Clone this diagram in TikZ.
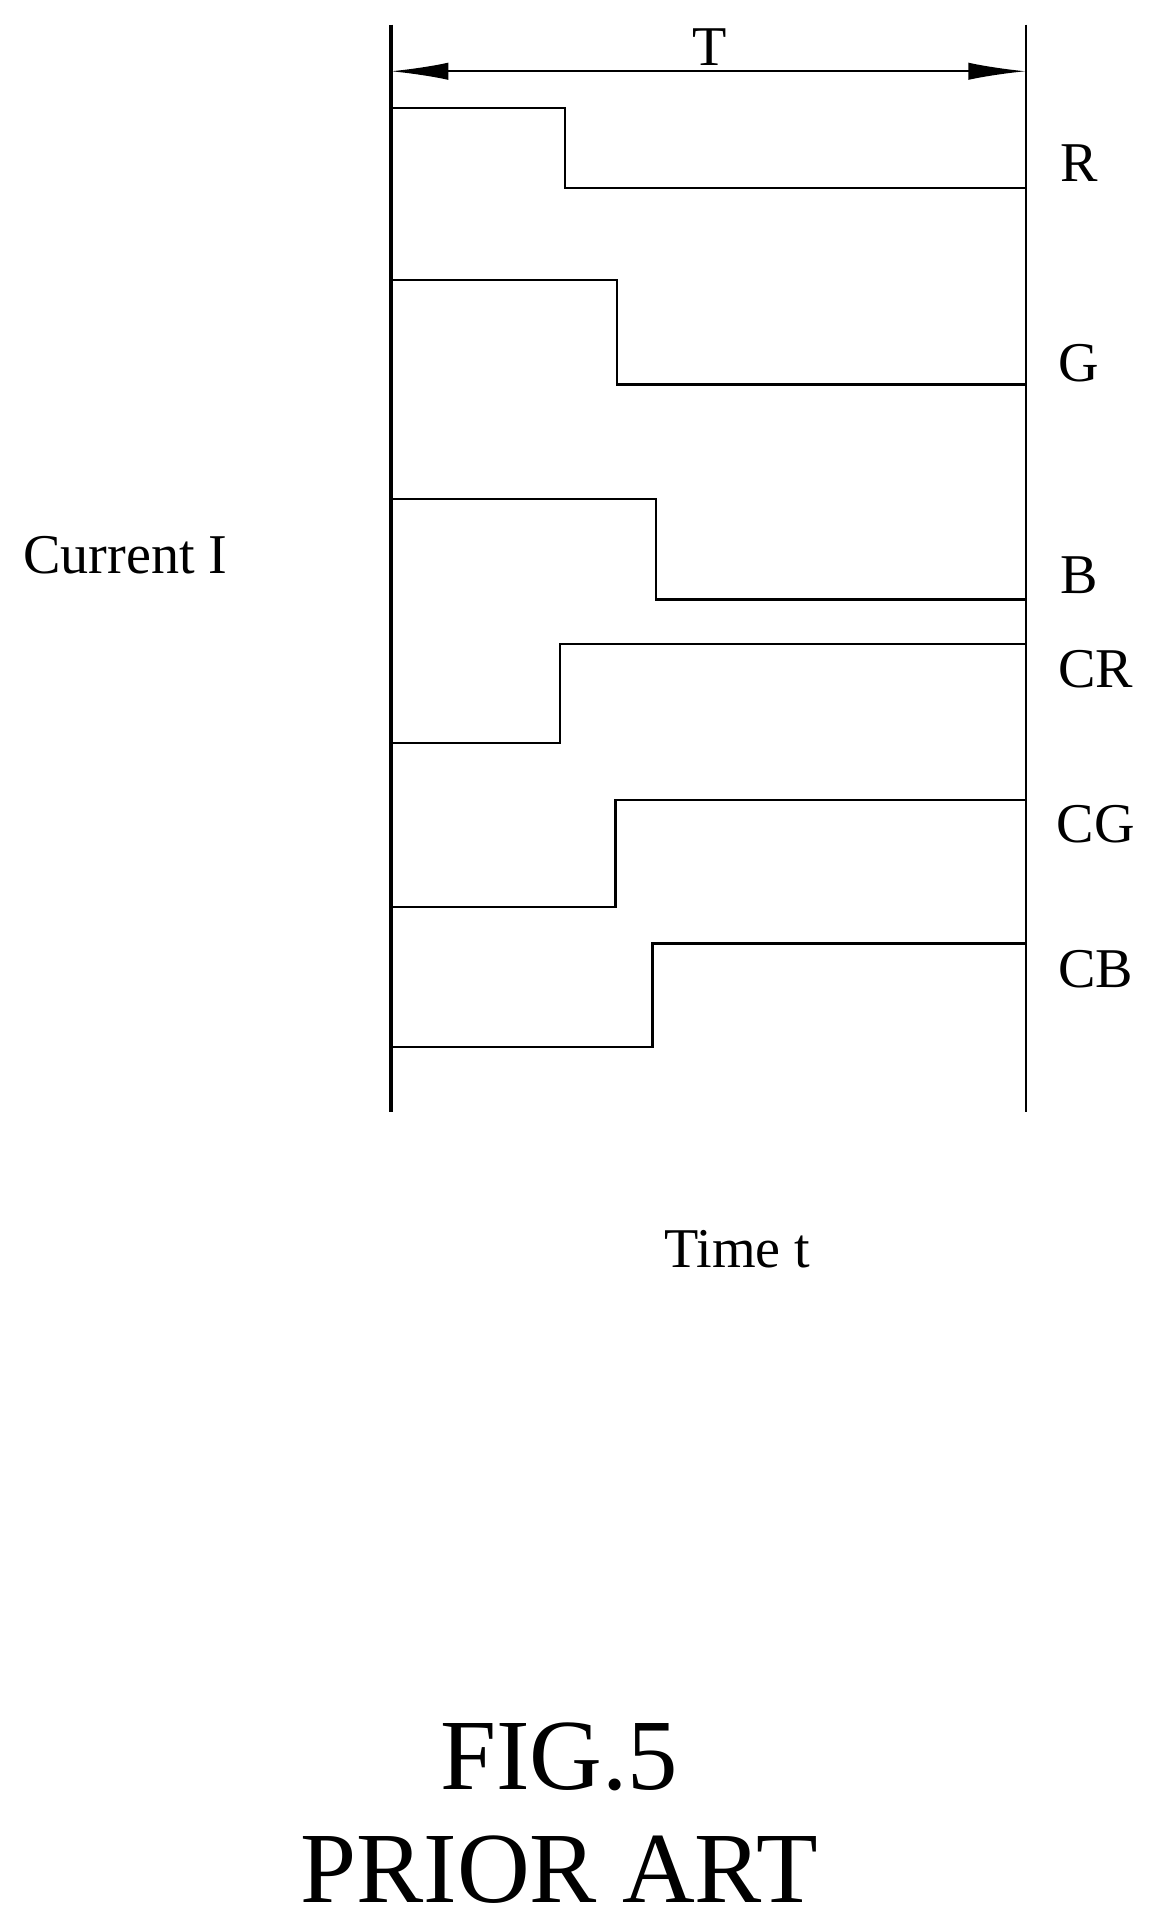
\documentclass[tikz,border=0pt]{standalone}
\usepackage{fontspec}
\setmainfont{Liberation Serif}
\usetikzlibrary{arrows.meta}
\begin{document}
\begin{tikzpicture}[x=0.03cm,y=-0.03cm,
  lbl/.style={font=\fontsize{39}{41}\selectfont,inner sep=0pt},
  big/.style={font=\fontsize{70}{74}\selectfont,inner sep=0pt},
  sig/.style={line width=1.6pt}]
\useasboundingbox (0,0) rectangle (940,1566);
\coordinate (L1) at (318,20); \coordinate (L2) at (318,905);
\coordinate (R1) at (835,20); \coordinate (R2) at (835,905);
\draw[line width=2.8pt] (L1) -- (L2);
\draw[line width=1.8pt] (R1) -- (R2);
\coordinate (a1) at (318,58); \coordinate (a2) at (835,58);
\draw[line width=1.5pt,{Latex[length=40,width=12]}-{Latex[length=40,width=12]}] (a1) -- (a2);
\node[lbl] (T) at (578,38) {T};
\draw[sig] (318,88) -- (460,88) -- (460,153) -- (835,153);
\draw[sig] (318,228) -- (502,228) -- (502,313) -- (835,313);
\draw[sig] (318,406) -- (534,406) -- (534,488) -- (835,488);
\draw[sig] (318,605) -- (456,605) -- (456,524) -- (835,524);
\draw[sig] (318,738) -- (501,738) -- (501,651) -- (835,651);
\draw[sig] (318,852) -- (531,852) -- (531,768) -- (835,768);
\node[lbl] (r) at (878,133) {R};
\node[lbl] (g) at (878,296) {G};
\node[lbl] (b) at (878,468) {B};
\node[lbl] (cr) at (892,545) {CR};
\node[lbl] (cg) at (892,671) {CG};
\node[lbl] (cb) at (892,789) {CB};
\node[lbl] (cur) at (102,452) {Current I};
\node[lbl] (time) at (600,1017) {Time t};
\node[big] (fig) at (455,1430) {FIG.5};
\node[big] (pa) at (455,1522) {PRIOR ART};
\end{tikzpicture}
\end{document}
